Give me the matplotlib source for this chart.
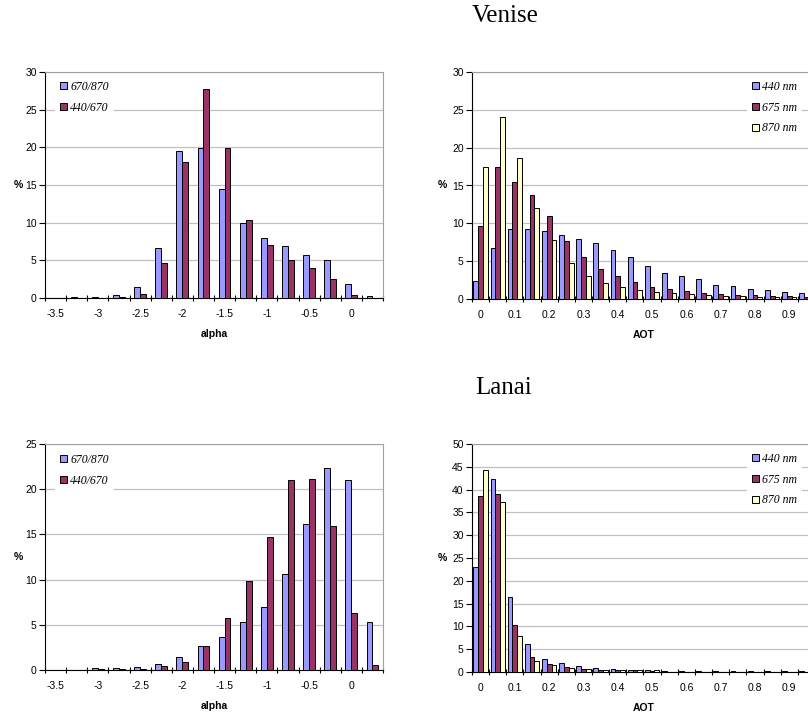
import matplotlib
matplotlib.use('Agg')
import matplotlib.pyplot as plt
from matplotlib.patches import Patch
from matplotlib.ticker import MultipleLocator, FixedLocator

W, H = 808, 717

# alpha histogram bins (0.25 wide) and AOT bins (0.05 wide)
alpha_bins = [-3.5, -3.25, -3.0, -2.75, -2.5, -2.25, -2.0, -1.75,
              -1.5, -1.25, -1.0, -0.75, -0.5, -0.25, 0.0, 0.25]
alpha_ticklabels = ['-3.5', '-3', '-2.5', '-2', '-1.5', '-1', '-0.5', '0']
aot_bins = [0.0, 0.05, 0.1, 0.15, 0.2, 0.25, 0.3, 0.35, 0.4, 0.45,
            0.5, 0.55, 0.6, 0.65, 0.7, 0.75, 0.8, 0.85, 0.9, 0.95]
aot_ticklabels = ['0', '0.1', '0.2', '0.3', '0.4', '0.5', '0.6', '0.7', '0.8', '0.9']

alpha_names = ['670/870', '440/670']
aot_names = ['440 nm', '675 nm', '870 nm']

# Venise, % of observations
venise_alpha_670_870 = [0.0, 0.1, 0.1, 0.4, 1.5, 6.6, 19.5, 19.9,
                        14.5, 9.9, 8.0, 6.9, 5.7, 5.0, 1.9, 0.3]
venise_alpha_440_670 = [0.0, 0.0, 0.0, 0.1, 0.5, 4.7, 18.0, 27.7,
                        19.9, 10.3, 7.0, 5.1, 4.0, 2.5, 0.4, 0.0]
venise_aot_440 = [2.4, 6.7, 9.2, 9.2, 9.0, 8.5, 7.9, 7.4, 6.5, 5.6,
                  4.3, 3.4, 3.1, 2.7, 1.9, 1.7, 1.3, 1.2, 0.9, 0.8]
venise_aot_675 = [9.6, 17.5, 15.5, 13.7, 11.0, 7.7, 5.5, 3.9, 3.0, 2.2,
                  1.6, 1.3, 1.1, 0.8, 0.65, 0.5, 0.5, 0.4, 0.4, 0.3]
venise_aot_870 = [17.5, 24.0, 18.6, 12.0, 7.8, 4.7, 3.0, 2.1, 1.6, 1.2,
                  0.9, 0.8, 0.65, 0.5, 0.4, 0.4, 0.3, 0.25, 0.25, 0.1]

# Lanai, % of observations
lanai_alpha_670_870 = [0.05, 0.05, 0.2, 0.2, 0.3, 0.7, 1.4, 2.6,
                       3.6, 5.3, 7.0, 10.6, 16.1, 22.3, 21.0, 5.3]
lanai_alpha_440_670 = [0.0, 0.0, 0.1, 0.1, 0.1, 0.4, 0.9, 2.7,
                       5.7, 9.9, 14.7, 21.0, 21.1, 15.9, 6.3, 0.55]
lanai_aot_440 = [23.1, 42.4, 16.5, 6.2, 2.9, 2.0, 1.3, 0.9, 0.6, 0.4,
                 0.4, 0.2, 0.2, 0.2, 0.15, 0.15, 0.15, 0.15, 0.15, 0.15]
lanai_aot_675 = [38.5, 39.0, 10.3, 3.3, 1.7, 1.1, 0.65, 0.5, 0.4, 0.4,
                 0.2, 0.1, 0.1, 0.1, 0.1, 0.1, 0.1, 0.1, 0.1, 0.1]
lanai_aot_870 = [44.2, 37.2, 8.0, 2.4, 1.5, 0.9, 0.65, 0.5, 0.4, 0.4,
                 0.4, 0.1, 0.1, 0.1, 0.1, 0.1, 0.1, 0.1, 0.1, 0.1]

colors = ['#9999FF', '#993366', '#FFFFCC']
SANS = 'Liberation Sans'
SERIF = 'Liberation Serif'


def place(ax, left, top, right, bottom):
    ax.set_position([left / W, 1 - bottom / H, (right - left) / W, (bottom - top) / H])


def hist_panel(ax, bins, series, names, ticklabels, ymax, xlabel, leg_xy):
    n = len(bins)
    width = 0.28
    k = len(series)
    for i, vals in enumerate(series):
        offs = (i - (k - 1) / 2) * width
        ax.bar([j + offs for j in range(n)], vals, width=width, color=colors[i],
               edgecolor='black', linewidth=0.7, zorder=3)
    ax.set_xlim(-0.5, n - 0.5)
    ax.set_ylim(0, ymax)
    ax.yaxis.set_major_locator(MultipleLocator(5))
    ax.xaxis.set_major_locator(FixedLocator([j for j in range(0, n, 2)][:len(ticklabels)]))
    ax.set_xticklabels(ticklabels)
    ax.xaxis.set_minor_locator(FixedLocator([j - 0.5 for j in range(n + 1)]))
    ax.tick_params(axis='x', which='major', length=0, pad=8)
    ax.tick_params(axis='x', which='minor', length=4, width=0.8, direction='inout')
    ax.tick_params(axis='y', length=4, width=0.8, direction='out', pad=2)
    for lab in ax.get_xticklabels() + ax.get_yticklabels():
        lab.set_fontfamily(SANS)
        lab.set_fontsize(7.5)
    ax.grid(axis='y', color='#C0C0C0', linewidth=0.9, zorder=0)
    ax.set_axisbelow(True)
    ax.spines['left'].set_color('black')
    ax.spines['bottom'].set_color('black')
    ax.spines['top'].set_color('#A0A0A0')
    ax.spines['right'].set_color('#A0A0A0')
    ax.set_xlabel(xlabel, fontfamily=SANS, fontsize=7.5, fontweight='bold', labelpad=7)
    ax.set_ylabel('%', fontfamily=SANS, fontsize=7.5, fontweight='bold',
                  rotation=0, va='center', ha='right')
    handles = [Patch(facecolor=colors[i], edgecolor='black', linewidth=0.7)
               for i in range(k)]
    leg = ax.legend(handles, names, loc='upper left', bbox_to_anchor=leg_xy,
                    frameon=True, fancybox=False, borderaxespad=0, borderpad=0.4,
                    handlelength=0.6, handleheight=0.6, handletextpad=0.3,
                    labelspacing=0.75,
                    prop={'family': SERIF, 'style': 'italic', 'size': 8.5})
    leg.get_frame().set_facecolor('white')
    leg.get_frame().set_edgecolor('none')
    leg.get_frame().set_alpha(1)
    return ax


fig = plt.figure(figsize=(W / 100, H / 100), dpi=100)

ax1 = fig.add_axes([0, 0, 1, 1])
hist_panel(ax1, alpha_bins, [venise_alpha_670_870, venise_alpha_440_670],
           alpha_names, alpha_ticklabels, 30, 'alpha', (10 / 338, 1 - 4 / 226))
place(ax1, 45, 72, 383, 298)
ax1.yaxis.set_label_coords(-0.065, 0.5)

ax2 = fig.add_axes([0, 0, 1, 1])
hist_panel(ax2, aot_bins, [venise_aot_440, venise_aot_675, venise_aot_870],
           aot_names, aot_ticklabels, 30, 'AOT', (275 / 343, 1 - 4 / 227))
place(ax2, 472, 72, 815, 299)
ax2.yaxis.set_label_coords(-0.072, 0.5)

ax3 = fig.add_axes([0, 0, 1, 1])
hist_panel(ax3, alpha_bins, [lanai_alpha_670_870, lanai_alpha_440_670],
           alpha_names, alpha_ticklabels, 25, 'alpha', (10 / 338, 1 - 5 / 226))
place(ax3, 45, 444, 383, 670)
ax3.yaxis.set_label_coords(-0.065, 0.5)

ax4 = fig.add_axes([0, 0, 1, 1])
hist_panel(ax4, aot_bins, [lanai_aot_440, lanai_aot_675, lanai_aot_870],
           aot_names, aot_ticklabels, 50, 'AOT', (275 / 343, 1 - 4 / 228))
place(ax4, 472, 444, 815, 672)
ax4.yaxis.set_label_coords(-0.072, 0.5)

fig.text(505 / W, 1 - 16 / H, 'Venise', fontfamily=SERIF, fontsize=18,
         ha='center', va='center')
fig.text(504 / W, 1 - 388 / H, 'Lanai', fontfamily=SERIF, fontsize=18,
         ha='center', va='center')

fig.savefig('out.png', dpi=100)
